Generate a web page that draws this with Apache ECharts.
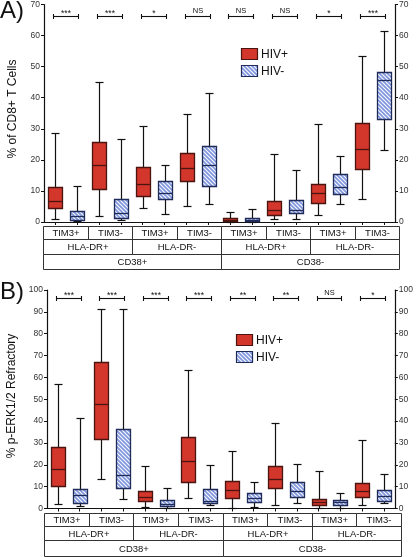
<!DOCTYPE html>
<html><head><meta charset="utf-8">
<script src="https://cdn.jsdelivr.net/npm/echarts@6/dist/echarts.min.js"></script>
<style>html,body{margin:0;padding:0;background:#fff}#c{width:416px;height:557px}</style>
</head><body><div id="c"></div>
<script>
// ---------- DATA ----------
const subsets = ['CD38+ HLA-DR+ TIM3+', 'CD38+ HLA-DR+ TIM3-', 'CD38+ HLA-DR- TIM3+', 'CD38+ HLA-DR- TIM3-',
                 'CD38- HLA-DR+ TIM3+', 'CD38- HLA-DR+ TIM3-', 'CD38- HLA-DR- TIM3+', 'CD38- HLA-DR- TIM3-'];
const groups = ['HIV+', 'HIV-'];
const tim3Labels = ['TIM3+', 'TIM3-', 'TIM3+', 'TIM3-', 'TIM3+', 'TIM3-', 'TIM3+', 'TIM3-'];
const hlaLabels = ['HLA-DR+', 'HLA-DR-', 'HLA-DR+', 'HLA-DR-'];
const cd38Labels = ['CD38+', 'CD38-'];

// box values: [min, q1, median, q3, max]
const cd8HivPos = [
  [0.9, 4.5, 6.8, 11.3, 28.7], [1.9, 10.5, 18.3, 25.6, 45.2], [4.5, 8.4, 12.2, 17.7, 30.9], [5.2, 13.2, 17.3, 22.3, 34.8],
  [0.1, 0.3, 0.8, 1.3, 3.2], [0.9, 2.2, 3.9, 6.8, 21.8], [2.1, 6.1, 9.3, 12.2, 31.4], [7.3, 17.1, 23.4, 32.0, 53.4]
];
const cd8HivNeg = [
  [0.2, 0.6, 2.0, 3.7, 11.5], [0.8, 1.4, 2.8, 7.3, 26.6], [2.7, 7.3, 9.3, 13.2, 18.2], [5.9, 11.5, 18.5, 24.5, 41.6],
  [0.1, 0.2, 0.7, 1.2, 4.1], [1.1, 3.0, 4.0, 7.2, 16.7], [5.9, 8.9, 11.2, 15.4, 21.4], [23.1, 33.0, 45.8, 48.3, 61.4]
];
const erkHivPos = [
  [2.2, 10.4, 18.1, 28.3, 57.2], [13.7, 32.0, 47.6, 67.1, 91.3], [0.5, 3.4, 5.3, 8.2, 19.6], [5.0, 12.0, 21.9, 32.5, 63.6],
  [0.2, 4.6, 8.4, 12.5, 26.1], [1.7, 9.6, 13.6, 19.5, 39.2], [0.3, 1.6, 3.1, 4.5, 17.2], [1.4, 5.1, 8.1, 11.7, 31.3]
];
const erkHivNeg = [
  [1.0, 2.6, 6.0, 9.0, 41.6], [4.5, 9.6, 15.5, 36.6, 91.3], [0.4, 1.0, 2.2, 4.0, 9.3], [1.7, 2.4, 3.4, 9.1, 19.8],
  [0.5, 3.1, 4.9, 6.9, 12.2], [2.5, 5.1, 8.0, 12.2, 20.2], [0.3, 1.4, 3.0, 4.0, 7.0], [2.5, 3.5, 5.8, 8.4, 15.7]
];
const cd8Sig = ['***', '***', '*', 'NS', 'NS', 'NS', '*', '***'];
const erkSig = ['***', '***', '***', '***', '**', '**', 'NS', '*'];
const cd8Ticks = [0, 10, 20, 30, 40, 50, 60, 70];
const erkTicks = [0, 10, 20, 30, 40, 50, 60, 70, 80, 90, 100];
const cd8Title = '% of CD8+ T Cells';
const erkTitle = '% p-ERK1/2 Refractory';

// ---------- STYLE ----------
const FONT = '"Liberation Sans", Arial, sans-serif';
const RED = '#d3362a', RED_EDGE = '#4a1510';
const BLUE_EDGE = '#1f2b58';
const INK = '#111';

function makeHatch() {
  const s = 4, c = document.createElement('canvas');
  c.width = s; c.height = s;
  const g = c.getContext('2d');
  g.fillStyle = '#7f95dd'; g.fillRect(0, 0, s, s);
  g.strokeStyle = 'rgba(255,255,255,0.95)'; g.lineWidth = 1.2;
  g.beginPath();
  g.moveTo(-1, -1); g.lineTo(s + 1, s + 1);
  g.moveTo(s - 1, -1); g.lineTo(s + 1, 1);
  g.moveTo(-1, s - 1); g.lineTo(1, s + 1);
  g.stroke();
  return c;
}
const HATCH = { image: makeHatch(), repeat: 'repeat' };

const catKeys = [];
subsets.forEach(s => groups.forEach(g => catKeys.push(s + ' | ' + g)));

function boxData(pos, neg) {
  const out = [];
  pos.forEach((v, i) => {
    out.push([2 * i].concat(v, [0]));
    out.push([2 * i + 1].concat(neg[i], [1]));
  });
  return out;
}

function boxRender(params, api) {
  const idx = api.value(0), grp = api.value(6);
  const bw = api.size([1, 0])[0];
  const half = Math.round(bw * 0.34), cap = Math.round(bw * 0.2);
  const y = k => Math.round(api.coord([idx, api.value(k)])[1]) + 0.5;
  const cx = Math.round(api.coord([idx, 0])[0]) + 0.5;
  const yMin = y(1), yQ1 = y(2), yMed = y(3), yQ3 = y(4), yMax = y(5);
  const edge = grp === 0 ? RED_EDGE : BLUE_EDGE;
  const ls = { stroke: INK, lineWidth: 1.2 };
  return {
    type: 'group',
    children: [
      { type: 'line', shape: { x1: cx, y1: yQ3, x2: cx, y2: yMax }, style: ls },
      { type: 'line', shape: { x1: cx, y1: yQ1, x2: cx, y2: yMin }, style: ls },
      { type: 'line', shape: { x1: cx - cap, y1: yMax, x2: cx + cap, y2: yMax }, style: ls },
      { type: 'line', shape: { x1: cx - cap, y1: yMin, x2: cx + cap, y2: yMin }, style: ls },
      { type: 'rect', shape: { x: cx - half, y: yQ3, width: 2 * half, height: Math.max(yQ1 - yQ3, 1) },
        style: { fill: grp === 0 ? RED : HATCH, stroke: edge, lineWidth: 1.3 } },
      { type: 'line', shape: { x1: cx - half, y1: yMed, x2: cx + half, y2: yMed }, style: { stroke: edge, lineWidth: 1.3 } }
    ]
  };
}

const sigLabels = { sigA: cd8Sig, sigB: erkSig };
function sigRender(level) {
  return function (params, api) {
    const i = api.value(0);
    const a = api.coord([2 * i, level]), b = api.coord([2 * i + 1, level]);
    const yy = Math.round(a[1]) + 0.5, x1 = Math.round(a[0]) - 1.5, x2 = Math.round(b[0]) + 1.5;
    const lab = sigLabels[params.seriesName][params.dataIndex];
    const star = lab.indexOf('*') >= 0;
    const ls = { stroke: INK, lineWidth: 1.1 };
    return {
      type: 'group',
      children: [
        { type: 'line', shape: { x1: x1, y1: yy, x2: x2, y2: yy }, style: ls },
        { type: 'line', shape: { x1: x1, y1: yy - 2.5, x2: x1, y2: yy + 2.5 }, style: ls },
        { type: 'line', shape: { x1: x2, y1: yy - 2.5, x2: x2, y2: yy + 2.5 }, style: ls },
        { type: 'text', x: (x1 + x2) / 2, y: star ? yy + 1.5 : yy - 1.2,
          style: { text: lab, fill: INK, font: (star ? '8.5px ' : '7.5px ') + FONT, align: 'center', verticalAlign: 'bottom' } }
      ]
    };
  };
}

function yAxes(gridIndex, ticks) {
  const base = {
    gridIndex, type: 'value', min: ticks[0], max: ticks[ticks.length - 1], interval: ticks[1] - ticks[0],
    splitLine: { show: false },
    axisLine: { show: true, lineStyle: { color: INK, width: 1.2 } },
    axisTick: { show: true, length: 3, lineStyle: { color: INK, width: 1 } },
    axisLabel: { fontSize: 8.5, color: '#333', fontFamily: FONT, margin: 4 }
  };
  return [Object.assign({}, base, { position: 'left' }), Object.assign({}, base, { position: 'right' })];
}
function xAxis(gridIndex) {
  return {
    gridIndex, type: 'category', data: catKeys, boundaryGap: true,
    axisLine: { show: true, lineStyle: { color: INK, width: 1.2 } },
    axisTick: { show: true, alignWithLabel: true, length: 3, interval: 0, lineStyle: { color: INK } },
    axisLabel: { show: false }, splitLine: { show: false }
  };
}

function table(x0, x1, ys) {
  const rows = [tim3Labels, hlaLabels, cd38Labels];
  const els = [];
  rows.forEach((labels, r) => {
    const w = (x1 - x0) / labels.length;
    labels.forEach((t, i) => {
      const xa = Math.round(x0 + i * w) + 0.5, xb = Math.round(x0 + (i + 1) * w) + 0.5;
      els.push({ type: 'rect', shape: { x: xa, y: ys[r] + 0.5, width: xb - xa, height: ys[r + 1] - ys[r] },
        style: { fill: 'none', stroke: '#333', lineWidth: 1 }, silent: true });
      els.push({ type: 'text', x: (xa + xb) / 2, y: (ys[r] + ys[r + 1]) / 2 + 1,
        style: { text: t, fill: '#111', font: '9.5px ' + FONT, align: 'center', verticalAlign: 'middle' } });
    });
  });
  return els;
}
function legend(x, y1, y2, w, h) {
  return [
    { type: 'rect', shape: { x: x + 0.5, y: y1 + 0.5, width: w, height: h }, style: { fill: RED, stroke: RED_EDGE, lineWidth: 1.2 } },
    { type: 'text', x: x + w + 4, y: y1 + h / 2 + 1, style: { text: groups[0], fill: '#111', font: '12px ' + FONT, verticalAlign: 'middle' } },
    { type: 'rect', shape: { x: x + 0.5, y: y2 + 0.5, width: w, height: h }, style: { fill: HATCH, stroke: BLUE_EDGE, lineWidth: 1.2 } },
    { type: 'text', x: x + w + 4, y: y2 + h / 2 + 1, style: { text: groups[1], fill: '#111', font: '12px ' + FONT, verticalAlign: 'middle' } }
  ];
}

const chart = echarts.init(document.getElementById('c'), null, { renderer: 'canvas' });
chart.setOption({
  animation: false,
  backgroundColor: '#fff',
  grid: [
    { left: 44, top: 4, width: 351, height: 218 },
    { left: 47, top: 290, width: 351, height: 218.5 }
  ],
  xAxis: [xAxis(0), xAxis(1)],
  yAxis: yAxes(0, cd8Ticks).concat(yAxes(1, erkTicks)),
  series: [
    { type: 'custom', name: 'boxA', xAxisIndex: 0, yAxisIndex: 0, renderItem: boxRender,
      data: boxData(cd8HivPos, cd8HivNeg), encode: { x: 0, y: [1, 2, 3, 4, 5] }, clip: false },
    { type: 'custom', name: 'boxB', xAxisIndex: 1, yAxisIndex: 2, renderItem: boxRender,
      data: boxData(erkHivPos, erkHivNeg), encode: { x: 0, y: [1, 2, 3, 4, 5] }, clip: false },
    { type: 'custom', name: 'sigA', xAxisIndex: 0, yAxisIndex: 0, renderItem: sigRender(66.3),
      data: cd8Sig.map((s, i) => [i]), encode: { x: 0 }, clip: false },
    { type: 'custom', name: 'sigB', xAxisIndex: 1, yAxisIndex: 2, renderItem: sigRender(96.2),
      data: erkSig.map((s, i) => [i]), encode: { x: 0 }, clip: false }
  ],
  graphic: [].concat(
    table(43, 399, [226, 239, 254, 269]),
    table(44, 401, [513, 526, 540, 556]),
    legend(241, 48, 65, 16, 11),
    legend(236, 334, 351, 16, 11),
    [
      { type: 'text', x: 0, y: 23, style: { text: 'A)', fill: '#111', font: '24px ' + FONT, verticalAlign: 'bottom' } },
      { type: 'text', x: 0, y: 304, style: { text: 'B)', fill: '#111', font: '24px ' + FONT, verticalAlign: 'bottom' } },
      { type: 'text', x: 13, y: 109, rotation: Math.PI / 2,
        style: { text: cd8Title, fill: '#111', font: '12px ' + FONT, align: 'center', verticalAlign: 'middle' } },
      { type: 'text', x: 12, y: 396, rotation: Math.PI / 2,
        style: { text: erkTitle, fill: '#111', font: '12px ' + FONT, align: 'center', verticalAlign: 'middle' } }
    ]
  )
});
</script></body></html>
